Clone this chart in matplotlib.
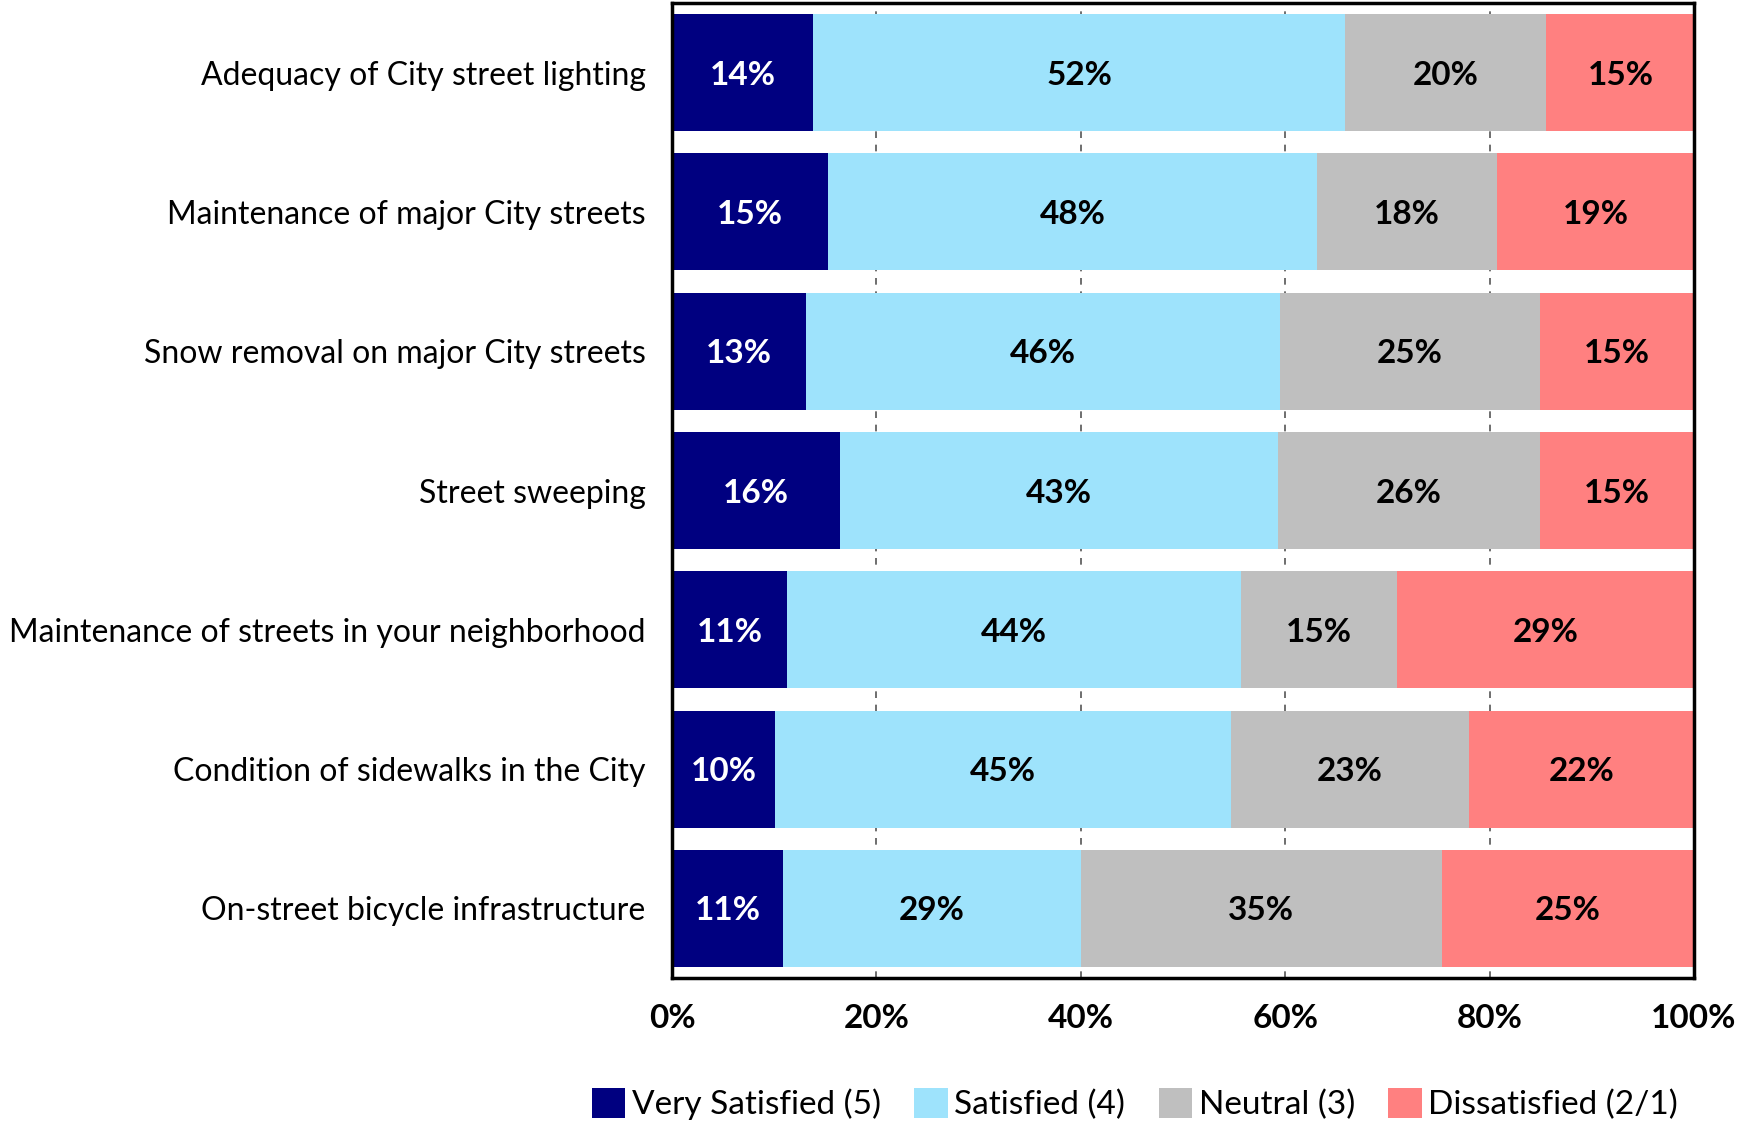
import matplotlib
matplotlib.use("Agg")
import matplotlib.pyplot as plt
from matplotlib.patches import Patch

plt.rcParams['font.family'] = ['Lato', 'DejaVu Sans']

categories = [
    "Adequacy of City street lighting",
    "Maintenance of major City streets",
    "Snow removal on major City streets",
    "Street sweeping",
    "Maintenance of streets in your neighborhood",
    "Condition of sidewalks in the City",
    "On-street bicycle infrastructure",
]
very_satisfied = [13.8, 15.3, 13.1, 16.4, 11.3, 10.1, 10.9]
satisfied      = [52.1, 47.8, 46.4, 42.9, 44.4, 44.6, 29.1]
neutral        = [19.6, 17.6, 25.4, 25.6, 15.2, 23.3, 35.3]
dissatisfied   = [14.6, 19.3, 15.1, 15.1, 29.1, 22.0, 24.7]
series_names = ["Very Satisfied (5)", "Satisfied (4)", "Neutral (3)", "Dissatisfied (2/1)"]
colors = ["#000080", "#9EE3FC", "#BFBFBF", "#FF8080"]
label_colors = ["white", "black", "black", "black"]
xticks = [0, 20, 40, 60, 80, 100]

fig = plt.figure(figsize=(17.38, 11.24), dpi=100)
ax = fig.add_axes([672/1738, 1 - 978/1124, (1694-672)/1738, (978-3)/1124])

series = [very_satisfied, satisfied, neutral, dissatisfied]
ypos = list(range(len(categories)))
left = [0.0] * len(categories)
for vals, col, lc in zip(series, colors, label_colors):
    ax.barh(ypos, vals, left=left, height=0.84, color=col, zorder=3)
    for y, v, l in zip(ypos, vals, left):
        ax.text(l + v / 2, y, f"{v:.0f}%", ha="center", va="center_baseline",
                color=lc, fontsize=24, fontweight="bold", zorder=4)
    left = [a + b for a, b in zip(left, vals)]

ax.set_xlim(0, 100)
ax.set_ylim(6.5, -0.5)
ax.set_yticks(ypos)
ax.set_yticklabels(categories, fontsize=23)
ax.set_xticks(xticks)
ax.set_xticklabels([f"{t}%" for t in xticks], fontsize=24, fontweight="bold")
ax.tick_params(axis="y", length=0, pad=19)
ax.tick_params(axis="x", length=0, pad=19)
ax.grid(axis="x", color="#555555", linestyle=(0, (4, 4)), linewidth=1.2, zorder=0)
for s in ax.spines.values():
    s.set_linewidth(2.5)
    s.set_color("black")
    s.set_zorder(5)

handles = [Patch(facecolor=c, label=n) for c, n in zip(colors, series_names)]
fig.legend(handles=handles, loc="center", bbox_to_anchor=(1135/1738, 1 - 1104/1124),
           ncol=4, frameon=False, fontsize=24, handlelength=1.0, handleheight=1.0,
           handletextpad=0.2, columnspacing=1.0)

fig.savefig("out.png", dpi=100)
